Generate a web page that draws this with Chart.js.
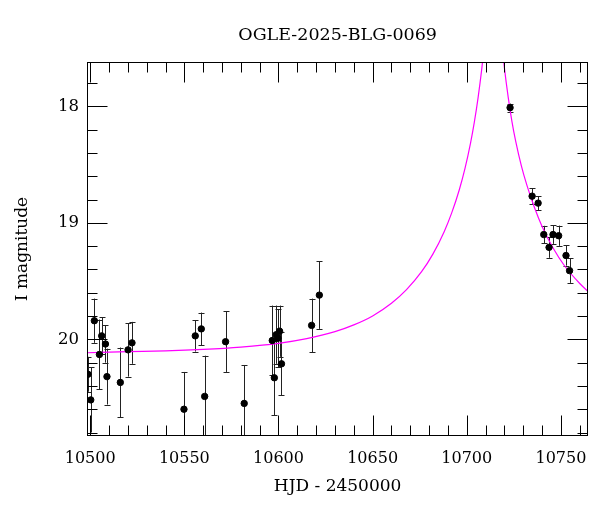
<!DOCTYPE html>
<html>
<head>
<meta charset="utf-8">
<script src="https://cdn.jsdelivr.net/npm/chart.js@4.4.1/dist/chart.umd.min.js"></script>
<style>
  body { margin: 0; background: #fff; }
  #wrap { width: 600px; height: 512px; }
</style>
</head>
<body>
<div id="wrap"><canvas id="lc"></canvas></div>
<script>
// observed photometry (HJD - 2450000, I mag, error)
const obsDays = [10498.8, 10500.3, 10502.2, 10504.9, 10506.1, 10508.1, 10508.9, 10516.0, 10520.1, 10522.2,
  10549.8, 10555.8, 10559.0, 10560.8, 10571.9, 10581.8,
  10596.7, 10597.8, 10598.8, 10599.7, 10600.6, 10601.6, 10617.6, 10621.7,
  10723.0, 10734.7, 10737.9, 10740.9, 10743.7, 10745.8, 10748.8, 10752.7, 10754.6];
const obsMags = [20.30, 20.52, 19.84, 20.13, 19.97, 20.04, 20.32, 20.37, 20.09, 20.03,
  20.60, 19.97, 19.91, 20.49, 20.02, 20.55,
  20.01, 20.33, 19.96, 19.99, 19.93, 20.21, 19.88, 19.62,
  18.01, 18.77, 18.83, 19.10, 19.21, 19.10, 19.11, 19.28, 19.41];
const obsErrs = [0.15, 0.28, 0.19, 0.30, 0.16, 0.16, 0.24, 0.30, 0.23, 0.18,
  0.32, 0.135, 0.14, 0.35, 0.26, 0.33,
  0.30, 0.32, 0.25, 0.25, 0.22, 0.27, 0.23, 0.29,
  0.035, 0.066, 0.06, 0.075, 0.09, 0.08, 0.087, 0.087, 0.105];

// model curve
const modelDays = [10498.3, 10520, 10540, 10560, 10580, 10600, 10615, 10630, 10640, 10650, 10660, 10668,
  10676, 10682, 10688, 10692, 10696, 10699, 10702, 10704, 10706, 10708, 10710, 10712, 10714,
  10716, 10718, 10720, 10722, 10724, 10726, 10729, 10732, 10736, 10740, 10746, 10752, 10760, 10764.5];
const modelMags = [20.115, 20.106, 20.099, 20.086, 20.066, 20.034, 19.994, 19.934, 19.876, 19.799, 19.69, 19.573,
  19.419, 19.268, 19.075, 18.914, 18.717, 18.536, 18.314, 18.137, 17.926, 17.673, 17.37, 17.046, 16.871,
  17.046, 17.37, 17.67, 17.92, 18.13, 18.30, 18.51, 18.68, 18.87, 19.03, 19.22, 19.37, 19.52, 19.59];

const xTicks = [10500, 10550, 10600, 10650, 10700, 10750];
const yTicks = [18, 19, 20];

const FONT = "'DejaVu Serif', serif";

const frame = {
  id: "frame",
  beforeDatasetsDraw(chart) {
    const { ctx, chartArea: a, scales: { x, y } } = chart;
    ctx.save();
    ctx.beginPath();
    ctx.rect(a.left, a.top, a.right - a.left, a.bottom - a.top);
    ctx.clip();
    ctx.strokeStyle = "#222";
    ctx.lineWidth = 1;
    obsDays.forEach((d, i) => {
      const px = Math.round(x.getPixelForValue(d)) + 0.5;
      const y1 = y.getPixelForValue(obsMags[i] - obsErrs[i]);
      const y2 = y.getPixelForValue(obsMags[i] + obsErrs[i]);
      ctx.beginPath();
      ctx.moveTo(px, y1);
      ctx.lineTo(px, y2);
      ctx.moveTo(px - 3, Math.round(y1) + 0.5);
      ctx.lineTo(px + 3, Math.round(y1) + 0.5);
      ctx.moveTo(px - 3, Math.round(y2) + 0.5);
      ctx.lineTo(px + 3, Math.round(y2) + 0.5);
      ctx.stroke();
    });
    ctx.restore();
  },
  afterDatasetsDraw(chart) {
    const { ctx, chartArea: a, scales: { x, y } } = chart;
    ctx.save();
    ctx.strokeStyle = "#000";
    ctx.lineWidth = 1;
    const L = Math.round(a.left) + 0.5, R = Math.round(a.right) - 0.5;
    const T = Math.round(a.top) + 0.5, B = Math.round(a.bottom) - 0.5;
    ctx.strokeRect(L, T, R - L, B - T);
    ctx.beginPath();
    for (let v = 10500; v <= 10760; v += 10) {
      const len = v % 50 === 0 ? 20 : 10;
      const px = Math.round(x.getPixelForValue(v)) + 0.5;
      ctx.moveTo(px, B); ctx.lineTo(px, B - len);
      ctx.moveTo(px, T); ctx.lineTo(px, T + len);
    }
    for (let k = 89; k <= 104; k++) {
      const v = k / 5;
      const len = k % 5 === 0 ? 20 : 10;
      const py = Math.round(y.getPixelForValue(v)) + 0.5;
      ctx.moveTo(L, py); ctx.lineTo(L + len, py);
      ctx.moveTo(R, py); ctx.lineTo(R - len, py);
    }
    ctx.stroke();
    ctx.restore();
  },
};

new Chart(document.getElementById("lc"), {
  type: "scatter",
  plugins: [frame],
  data: {
    datasets: [
      {
        label: "OGLE I",
        data: obsDays.map((d, i) => ({ x: d, y: obsMags[i] })),
        backgroundColor: "#000",
        borderColor: "#000",
        pointRadius: 3.2,
        pointHoverRadius: 3.2,
      },
      {
        type: "line",
        label: "model",
        data: modelDays.map((d, i) => ({ x: d, y: modelMags[i] })),
        borderColor: "#ff00ff",
        borderWidth: 1.2,
        pointRadius: 0,
        fill: false,
        cubicInterpolationMode: "monotone",
      },
    ],
  },
  options: {
    responsive: true,
    maintainAspectRatio: false,
    animation: false,
    layout: { padding: { left: 0, right: 11, top: 0, bottom: 0 } },
    plugins: {
      legend: { display: false },
      tooltip: { enabled: false },
      title: {
        display: true,
        fullSize: false,
        text: "OGLE-2025-BLG-0069",
        color: "#000",
        font: { family: FONT, size: 17.5, weight: "normal" },
        padding: { top: 25, bottom: 16 },
      },
    },
    scales: {
      x: {
        type: "linear",
        min: 10498.3,
        max: 10764.5,
        grid: { display: false, drawTicks: false },
        border: { display: false },
        afterFit: (s) => { s.height = 76; },
        afterBuildTicks: (s) => { s.ticks = xTicks.map((v) => ({ value: v })); },
        ticks: {
          color: "#000",
          padding: 13,
          font: { family: FONT, size: 16 },
          callback: (v) => String(v),
          maxRotation: 0,
        },
        title: {
          display: true,
          text: "HJD - 2450000",
          color: "#000",
          font: { family: FONT, size: 17 },
          padding: { top: 0, bottom: 15 },
        },
      },
      y: {
        type: "linear",
        reverse: true,
        min: 17.618,
        max: 20.83,
        grid: { display: false, drawTicks: false },
        border: { display: false },
        afterFit: (s) => { s.width = 87; },
        afterBuildTicks: (s) => { s.ticks = yTicks.map((v) => ({ value: v })); },
        ticks: {
          color: "#000",
          padding: 8,
          font: { family: FONT, size: 16.5 },
          callback: (v) => String(v),
        },
        title: {
          display: true,
          text: "I magnitude",
          color: "#000",
          font: { family: FONT, size: 17 },
          padding: { top: 12, bottom: 0 },
        },
      },
    },
  },
});
</script>
</body>
</html>
